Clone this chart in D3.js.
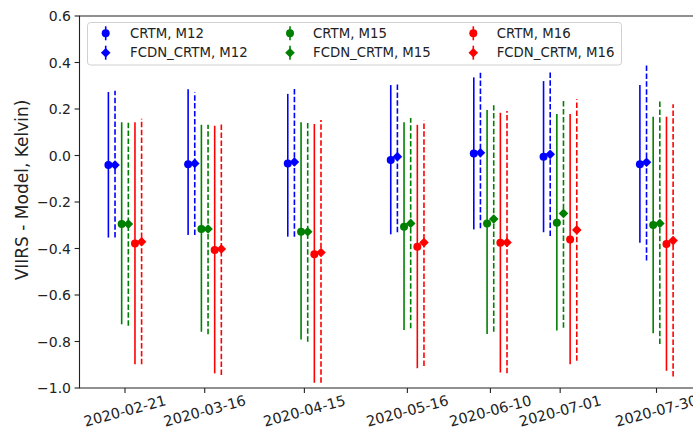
<!DOCTYPE html>
<html>
<head>
<meta charset="utf-8">
<script src="https://cdn.jsdelivr.net/npm/d3@7/dist/d3.min.js"></script>
<style>
  body { margin: 0; background: #fff; }
  svg { display: block; font-family: "DejaVu Sans", sans-serif; }
</style>
</head>
<body>
<div id="container"><svg></svg></div>
<script>
let width = 693;
let height = 428;
let margin = {'left': 79.5, 'top': 16, 'right': 720, 'bottom': 388};

// dates of the matchups, and the shift (in days) of each series around them
let dates = ['2020-02-21','2020-03-16','2020-04-15','2020-05-16','2020-06-10','2020-07-01','2020-07-30'];
let dayOffsets = [-5, -3, -1, 1, 3, 5];
let yTicks = [-1.0, -0.8, -0.6, -0.4, -0.2, 0.0, 0.2, 0.4, 0.6];

let seriesNames = ['CRTM, M12','FCDN_CRTM, M12','CRTM, M15','FCDN_CRTM, M15','CRTM, M16','FCDN_CRTM, M16'];
let seriesColors = ['#0000ff','#0000ff','#008000','#008000','#ff0000','#ff0000'];
let seriesSymbols = ['circle','diamond','circle','diamond','circle','diamond'];

let crtmM12 = [-0.041, -0.038, -0.034, -0.019, 0.009, -0.005, -0.038];
let crtmM12Hi = [0.273, 0.285, 0.265, 0.303, 0.336, 0.320, 0.303];
let crtmM12Lo = [-0.353, -0.342, -0.349, -0.339, -0.318, -0.330, -0.375];

let fcdnM12 = [-0.041, -0.034, -0.028, -0.005, 0.012, 0.005, -0.029];
let fcdnM12Hi = [0.279, 0.272, 0.289, 0.308, 0.356, 0.363, 0.396];
let fcdnM12Lo = [-0.353, -0.342, -0.349, -0.330, -0.313, -0.346, -0.452];

let crtmM15 = [-0.295, -0.316, -0.328, -0.306, -0.292, -0.289, -0.299];
let crtmM15Hi = [0.143, 0.132, 0.143, 0.143, 0.196, 0.178, 0.167];
let crtmM15Lo = [-0.726, -0.758, -0.791, -0.751, -0.768, -0.753, -0.765];

let fcdnM15 = [-0.295, -0.316, -0.328, -0.292, -0.273, -0.249, -0.292];
let fcdnM15Hi = [0.150, 0.132, 0.143, 0.161, 0.216, 0.242, 0.239];
let fcdnM15Lo = [-0.732, -0.769, -0.801, -0.743, -0.758, -0.741, -0.811];

let crtmM16 = [-0.378, -0.406, -0.425, -0.392, -0.375, -0.361, -0.381];
let crtmM16Hi = [0.143, 0.128, 0.135, 0.132, 0.184, 0.178, 0.167];
let crtmM16Lo = [-0.898, -0.937, -0.977, -0.915, -0.933, -0.898, -0.926];

let fcdnM16 = [-0.371, -0.402, -0.417, -0.374, -0.374, -0.320, -0.366];
let fcdnM16Hi = [0.158, 0.137, 0.153, 0.150, 0.191, 0.242, 0.220];
let fcdnM16Lo = [-0.898, -0.944, -0.977, -0.905, -0.937, -0.883, -0.951];

let means = [crtmM12, fcdnM12, crtmM15, fcdnM15, crtmM16, fcdnM16];
let highs = [crtmM12Hi, fcdnM12Hi, crtmM15Hi, fcdnM15Hi, crtmM16Hi, fcdnM16Hi];
let lows = [crtmM12Lo, fcdnM12Lo, crtmM15Lo, fcdnM15Lo, crtmM16Lo, fcdnM16Lo];

let svg, xScale, yScale;
const parseDate = d3.utcParse('%Y-%m-%d');
const DAY = 86400000;

function marker(g, symbol, x, y, color) {
    if (symbol === 'circle') {
        g.append('circle').attr('cx', x).attr('cy', y).attr('r', 4).attr('fill', color);
    } else {
        let s = 4.8;
        g.append('path')
            .attr('d', `M${x},${y - s}L${x + s},${y}L${x},${y + s}L${x - s},${y}Z`)
            .attr('fill', color);
    }
}

function draw() {
    xScale = d3.scaleUtc()
        .domain([parseDate(dates[0]), parseDate(dates[dates.length - 1])])
        .range([125, 656.5]);
    yScale = d3.scaleLinear()
        .domain([-1.0, 0.6])
        .range([margin.bottom, margin.top]);

    // spines
    svg.append('path')
        .attr('d', `M${margin.right},${margin.top}H${margin.left}V${margin.bottom}H${margin.right}`)
        .attr('fill', 'none').attr('stroke', '#222').attr('stroke-width', 1.1);

    // y axis
    let yAxis = svg.append('g');
    yAxis.selectAll('line').data(yTicks).join('line')
        .attr('x1', margin.left).attr('x2', margin.left - 4.9)
        .attr('y1', d => yScale(d)).attr('y2', d => yScale(d))
        .attr('stroke', '#222').attr('stroke-width', 1.1);
    yAxis.selectAll('text').data(yTicks).join('text')
        .attr('x', 71).attr('y', d => yScale(d))
        .attr('text-anchor', 'end').attr('dominant-baseline', 'central')
        .attr('font-size', 14).attr('fill', '#222')
        .text(d => d3.format('.1f')(d).replace('-', '\u2212'));

    svg.append('text')
        .attr('transform', `translate(22,190) rotate(-90)`)
        .attr('text-anchor', 'middle').attr('dominant-baseline', 'central')
        .attr('font-size', 17).attr('fill', '#222')
        .text('VIIRS - Model, Kelvin)');

    // x axis
    let xAxis = svg.append('g');
    xAxis.selectAll('line').data(dates).join('line')
        .attr('x1', d => xScale(parseDate(d))).attr('x2', d => xScale(parseDate(d)))
        .attr('y1', margin.bottom).attr('y2', margin.bottom + 4.9)
        .attr('stroke', '#222').attr('stroke-width', 1.1);
    xAxis.selectAll('text').data(dates).join('text')
        .attr('transform', d => `translate(${xScale(parseDate(d))},411) rotate(-15)`)
        .attr('text-anchor', 'middle').attr('dominant-baseline', 'central')
        .attr('font-size', 14.5).attr('fill', '#222')
        .text(d => d);

    // error bars + markers
    seriesNames.forEach((name, i) => {
        let g = svg.append('g');
        let dash = seriesSymbols[i] === 'diamond' ? '5.5,2.4' : null;
        dates.forEach((d, j) => {
            let x = xScale(new Date(parseDate(d).getTime() + dayOffsets[i] * DAY));
            g.append('line')
                .attr('x1', x).attr('x2', x)
                .attr('y1', yScale(lows[i][j])).attr('y2', yScale(highs[i][j]))
                .attr('stroke', seriesColors[i]).attr('stroke-width', 1.6)
                .attr('stroke-dasharray', dash);
        });
        dates.forEach((d, j) => {
            let x = xScale(new Date(parseDate(d).getTime() + dayOffsets[i] * DAY));
            marker(g, seriesSymbols[i], x, yScale(means[i][j]), seriesColors[i]);
        });
    });

    // legend
    let legend = svg.append('g');
    legend.append('rect')
        .attr('x', 87.5).attr('y', 22.5).attr('width', 534).attr('height', 42.5)
        .attr('rx', 3).attr('fill', '#fff').attr('fill-opacity', 0.8)
        .attr('stroke', '#d0d0d0').attr('stroke-width', 1);
    let colMarker = [105.7, 290, 473.3];
    let colText = [130, 313, 496.7];
    let rowY = [33.3, 52.7];
    seriesNames.forEach((name, i) => {
        let c = Math.floor(i / 2), r = i % 2;
        legend.append('line')
            .attr('x1', colMarker[c]).attr('x2', colMarker[c])
            .attr('y1', rowY[r] - 7).attr('y2', rowY[r] + 7)
            .attr('stroke', seriesColors[i]).attr('stroke-width', 1.6);
        marker(legend, seriesSymbols[i], colMarker[c], rowY[r], seriesColors[i]);
        legend.append('text')
            .attr('x', colText[c]).attr('y', rowY[r])
            .attr('dominant-baseline', 'central')
            .attr('font-size', 13.3).attr('fill', '#222')
            .text(name);
    });
}

function main() {
    svg = d3.select('#container').select('svg')
        .attr('width', width)
        .attr('height', height);
    svg.append('rect').attr('width', width).attr('height', height).attr('fill', '#fff');
    draw();
}

main()
</script>
</body>
</html>
